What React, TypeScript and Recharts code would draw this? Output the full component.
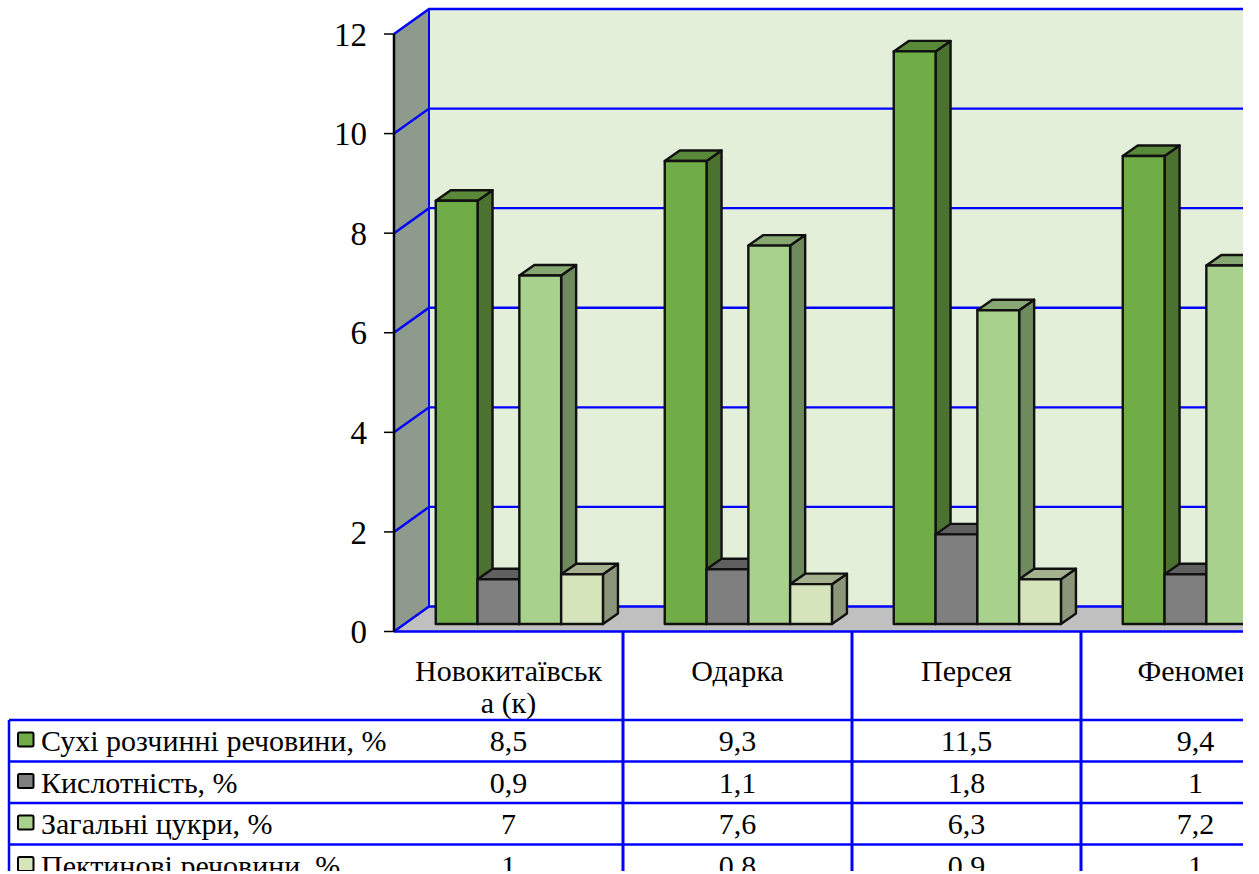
import React from 'react';
import { BarChart, Bar, XAxis, YAxis, CartesianGrid } from 'recharts';

/* ─── DATA ─────────────────────────────────────── */
const categories = ['Новокитаївська (к)', 'Одарка', 'Персея', 'Феномен'];
const categoryLines = [['Новокитаївськ', 'а (к)'], ['Одарка'], ['Персея'], ['Феномен']];
const seriesNames = ['Сухі розчинні речовини, %', 'Кислотність, %', 'Загальні цукри, %', 'Пектинові речовини, %'];
const dryMatter = [8.5, 9.3, 11.5, 9.4];
const acidity = [0.9, 1.1, 1.8, 1];
const sugars = [7, 7.6, 6.3, 7.2];
const pectin = [1, 0.8, 0.9, 1];
const yTicks = [0, 2, 4, 6, 8, 10, 12];

const seriesValues = [dryMatter, acidity, sugars, pectin];
const chartData = categories.map((name, i) => ({
  name,
  dryMatter: dryMatter[i],
  acidity: acidity[i],
  sugars: sugars[i],
  pectin: pectin[i],
}));

/* ─── LAYOUT ─────────────────────────────────────── */
const CLIP_W = 1243;
const CLIP_H = 871;
const CHART_W = 1400;
const CHART_H = 880;
const PLOT_LEFT = 394;
const PLOT_TOP = 34;
const PLOT_BOTTOM = 631.5;
const BAND = 229;
const PLOT_W = BAND * categories.length;
const AXIS_W = 60;
const WALL_DX = 35;
const WALL_DY = 25;
const ROW_TOP = 720;
const ROW_H = 41.5;
const BLUE = '#0000ff';
const FONT = '"Liberation Serif", "Times New Roman", serif';
const TABLE_FONT = 30;

const faces = [
  { front: '#70ad47', top: '#5a8a39', side: '#4b7230' },
  { front: '#7f7f7f', top: '#606060', side: '#4f4f4f' },
  { front: '#a9d18e', top: '#86a772', side: '#6f8a5d' },
  { front: '#d6e4bc', top: '#a5b08f', side: '#8a9579' },
];

/* ─── 3D BAR ─────────────────────────────────────── */
const makeBox = (c: { front: string; top: string; side: string }) => (props: any) => {
  const { x: rawX, y: rawY, width: w, height: h } = props;
  // bars stand a little way in from the front edge of the floor
  const x = rawX + 10.75;
  const y = rawY - 7.5;
  const dx = 15;
  const dy = 10.5;
  const edge = { stroke: '#111', strokeWidth: 2.4, strokeLinejoin: 'round' as const };
  return (
    <g>
      <polygon points={`${x + w},${y} ${x + w + dx},${y - dy} ${x + w + dx},${y + h - dy} ${x + w},${y + h}`} fill={c.side} {...edge} />
      <polygon points={`${x},${y} ${x + dx},${y - dy} ${x + w + dx},${y - dy} ${x + w},${y}`} fill={c.top} {...edge} />
      <rect x={x} y={y} width={w} height={h} fill={c.front} {...edge} />
    </g>
  );
};

/* ─── GRID LINE: DOWN THE SIDE WALL, THEN ACROSS THE BACK ─────────── */
const WallLine = (props: any) => {
  const { x1, x2, y1 } = props;
  return (
    <polyline
      points={`${x1},${y1} ${x1 + WALL_DX},${y1 - WALL_DY} ${x2 + WALL_DX},${y1 - WALL_DY}`}
      fill="none"
      stroke={BLUE}
      strokeWidth={2.4}
    />
  );
};

/* ─── TABLE COLUMN UNDER EACH CATEGORY ─────────────────────────── */
const TableColumn = (props: any) => {
  const { x, index } = props;
  const right = x + BAND / 2;
  const lines = categoryLines[index] || [];
  return (
    <g fontFamily={FONT} fill="#000" textAnchor="middle">
      <line x1={right} x2={right} y1={PLOT_BOTTOM} y2={CHART_H} stroke={BLUE} strokeWidth={3} />
      {lines.map((t, i) => (
        <text key={i} x={x} y={681 + i * 32} fontSize={TABLE_FONT} fill="#000">{t}</text>
      ))}
      {seriesValues.map((vals, i) => (
        <text key={i} x={x} y={ROW_TOP + i * ROW_H + 31} fontSize={TABLE_FONT} fill="#000">
          {String(vals[index]).replace('.', ',')}
        </text>
      ))}
    </g>
  );
};

/* ─── WALLS, FLOOR AND ROW HEADERS ─────────────────────────── */
const Backdrop = () => {
  const backX = PLOT_LEFT + WALL_DX;
  const far = PLOT_LEFT + PLOT_W + WALL_DX;
  return (
    <svg width={CLIP_W} height={CLIP_H} style={{ position: 'absolute', left: 0, top: 0 }}>
      <rect x={backX} y={PLOT_TOP - WALL_DY} width={far - backX} height={PLOT_BOTTOM - PLOT_TOP} fill="#e3efd9" />
      <polygon
        points={`${PLOT_LEFT},${PLOT_TOP} ${backX},${PLOT_TOP - WALL_DY} ${backX},${PLOT_BOTTOM - WALL_DY} ${PLOT_LEFT},${PLOT_BOTTOM}`}
        fill="#8d9a8c"
      />
      <polygon
        points={`${PLOT_LEFT},${PLOT_BOTTOM} ${backX},${PLOT_BOTTOM - WALL_DY} ${far},${PLOT_BOTTOM - WALL_DY} ${far - WALL_DX},${PLOT_BOTTOM}`}
        fill="#c0c0c0"
      />
      <line x1={backX} x2={backX} y1={PLOT_TOP - WALL_DY} y2={PLOT_BOTTOM - WALL_DY} stroke={BLUE} strokeWidth={2} />
      {seriesNames.map((name, i) => {
        const top = ROW_TOP + i * ROW_H;
        return (
          <g key={name}>
            <line x1={9} x2={CLIP_W} y1={top} y2={top} stroke={BLUE} strokeWidth={2.5} />
            <rect x={18} y={top + 12.5} width={15.5} height={14} rx={1.5} fill={faces[i].front} stroke="#000" strokeWidth={2} />
            <text x={41} y={top + 31} fontFamily={FONT} fontSize={TABLE_FONT} fill="#000">{name}</text>
          </g>
        );
      })}
      <line x1={9} x2={9} y1={ROW_TOP} y2={CLIP_H} stroke={BLUE} strokeWidth={2.5} />
    </svg>
  );
};

export default function App() {
  return (
    <div style={{ position: 'absolute', left: 0, top: 0, width: CLIP_W, height: CLIP_H, overflow: 'hidden', background: '#fff' }}>
      <Backdrop />
      <div style={{ position: 'absolute', left: 0, top: 0 }}>
        <BarChart
          width={CHART_W}
          height={CHART_H}
          data={chartData}
          barSize={41.8}
          barGap={0}
          margin={{ top: PLOT_TOP, left: PLOT_LEFT - AXIS_W, right: CHART_W - PLOT_LEFT - PLOT_W, bottom: 0 }}
        >
          <CartesianGrid vertical={false} horizontal={WallLine as any} syncWithTicks />
          <XAxis
            dataKey="name"
            axisLine={{ stroke: BLUE, strokeWidth: 2.5 }}
            tickLine={false}
            interval={0}
            height={CHART_H - PLOT_BOTTOM}
            tick={TableColumn as any}
          />
          <YAxis
            width={AXIS_W}
            domain={[0, 12]}
            ticks={yTicks}
            interval={0}
            axisLine={{ stroke: '#000', strokeWidth: 2.5 }}
            tickLine={{ stroke: '#000', strokeWidth: 1.5 }}
            tickSize={10}
            tickMargin={17}
            tick={{ fontFamily: FONT, fontSize: 33, fill: '#000' }}
          />
          <Bar dataKey="dryMatter" isAnimationActive={false} shape={makeBox(faces[0]) as any} />
          <Bar dataKey="acidity" isAnimationActive={false} shape={makeBox(faces[1]) as any} />
          <Bar dataKey="sugars" isAnimationActive={false} shape={makeBox(faces[2]) as any} />
          <Bar dataKey="pectin" isAnimationActive={false} shape={makeBox(faces[3]) as any} />
        </BarChart>
      </div>
    </div>
  );
}
